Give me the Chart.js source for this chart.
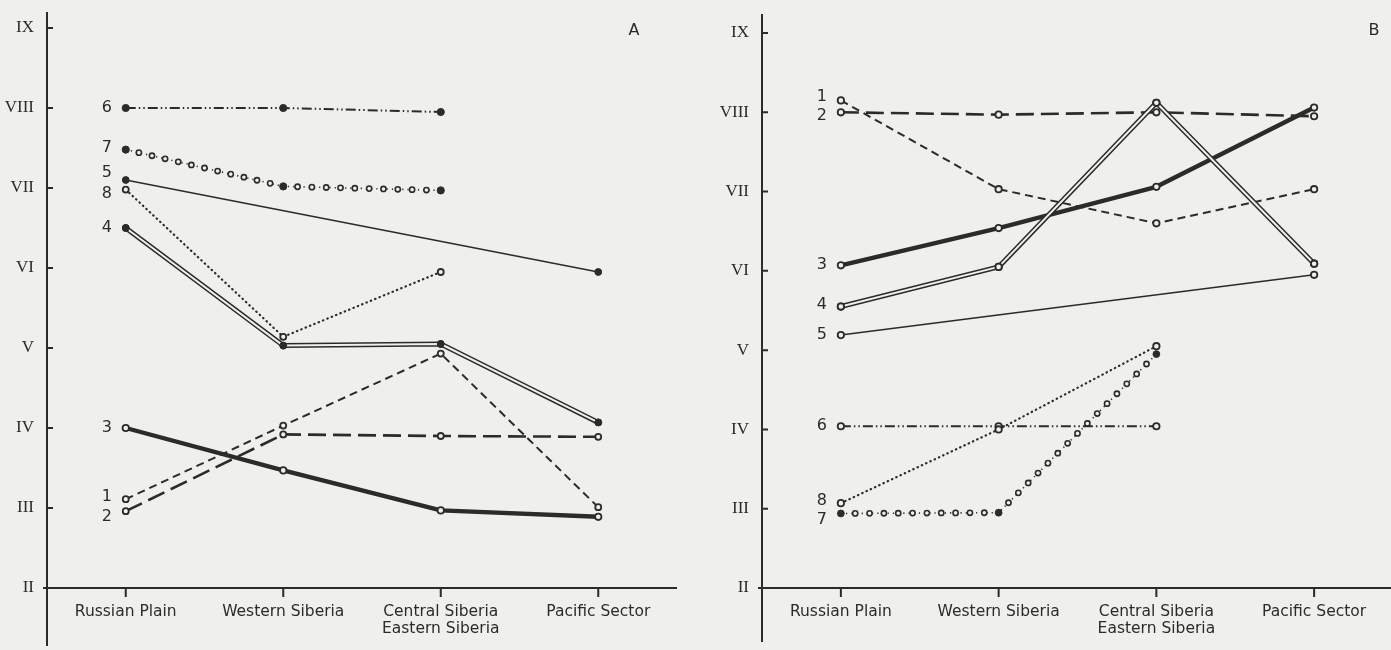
<!DOCTYPE html>
<html>
<head>
<meta charset="utf-8">
<title>Regional sequence diagrams A and B</title>
<script src="https://cdn.jsdelivr.net/npm/chart.js@4.4.1/dist/chart.umd.min.js"></script>
<style>
  html, body { margin: 0; padding: 0; background: #efefec; overflow: hidden; width: 1391px; height: 650px; }
  #wrapA { position: absolute; left: 0; top: 0; width: 700px; height: 650px; }
  #wrapB { position: absolute; left: 690px; top: 0; width: 710px; height: 650px; }
  canvas { display: block; }
</style>
</head>
<body>
<div id="wrapA"><canvas id="chartA" width="700" height="650"></canvas></div>
<div id="wrapB"><canvas id="chartB" width="710" height="650"></canvas></div>
<script>
// ---- data ----
const categories = ['Russian Plain', 'Western Siberia', ['Central Siberia', 'Eastern Siberia'], 'Pacific Sector'];
const romanTicks = ['II', 'III', 'IV', 'V', 'VI', 'VII', 'VIII', 'IX']; // values 2..9

// panel A
const a1 = [3.11, 4.03, 4.93, 3.01];
const a2 = [2.96, 3.92, 3.90, 3.89];
const a3 = [4.00, 3.47, 2.97, 2.89];
const a4 = [6.50, 5.03, 5.05, 4.07];
const a5 = [7.10, null, null, 5.95];
const a6 = [8.00, 8.00, 7.95, null];
const a7 = [7.48, 7.02, 6.97, null];
const a8 = [6.98, 5.14, 5.95, null];

// panel B
const b1 = [8.15, 7.03, 6.60, 7.03];
const b2 = [8.00, 7.97, 8.00, 7.95];
const b3 = [6.07, 6.54, 7.06, 8.06];
const b4 = [5.55, 6.05, 8.12, 6.09];
const b5 = [5.19, null, null, 5.95];
const b6 = [4.04, 4.04, 4.04, null];
const b7 = [2.94, 2.95, 4.95, null];
const b8 = [3.07, 4.00, 5.05, null];

// ---- styling ----
const INK = '#2b2b2b';
const PAPER = '#efefec';

// line style per curve number
const lineStyles = {
  1: { borderWidth: 2, borderDash: [8, 5] },
  2: { borderWidth: 2.6, borderDash: [18, 7] },
  3: { borderWidth: 4.4 },
  4: { borderWidth: 5, double: true },
  5: { borderWidth: 1.6, spanGaps: true },
  6: { borderWidth: 2, borderDash: [10, 3, 1.5, 3, 1.5, 3] },
  7: { borderWidth: 1.6, borderDash: [1.2, 4], beads: true },
  8: { borderWidth: 2.2, borderDash: [0.5, 4.2], borderCapStyle: 'round' }
};

function marker(filled, r) {
  return {
    pointRadius: r,
    pointBorderWidth: filled ? 1 : 1.8,
    pointBorderColor: INK,
    pointBackgroundColor: filled ? INK : PAPER
  };
}

// builds the datasets of one panel; a double line is an ink stroke
// with a thin paper-coloured stroke run down its middle
function buildDatasets(series, markers, tagShift) {
  const out = [];
  let order = 100;
  series.forEach((data, idx) => {
    const num = idx + 1;
    const st = lineStyles[num];
    const mk = markers[num];
    const base = Object.assign({
      label: String(num),
      data: data,
      borderColor: INK,
      backgroundColor: INK,
      fill: false,
      tension: 0,
      borderCapStyle: st.borderCapStyle || 'butt',
      borderJoinStyle: 'round',
      borderWidth: st.borderWidth,
      borderDash: st.borderDash || [],
      spanGaps: !!st.spanGaps,
      tag: String(num),
      tagDy: tagShift[num] || 0,
      beads: !!st.beads,
      order: order--
    }, mk);
    out.push(base);
    if (st.double) {
      out.push(Object.assign({}, base, {
        label: num + 'inner',
        borderColor: PAPER,
        borderWidth: 2,
        tag: null,
        order: order--
      }));
    }
  });
  return out;
}

// axes drawn as in the printed figure: the vertical axis runs past both ends,
// tick marks on the value axis point inward, category ticks hang below
const axisArt = {
  id: 'axisArt',
  beforeDatasetsDraw(chart, args, o) {
    const { ctx, chartArea, scales } = chart;
    const { left, right, bottom } = chartArea;
    ctx.save();
    ctx.strokeStyle = INK;
    ctx.lineWidth = 2;
    ctx.beginPath();
    ctx.moveTo(left, o.axisTop);
    ctx.lineTo(left, o.axisBottom);
    ctx.moveTo(left - 4, bottom);
    ctx.lineTo(right, bottom);
    scales.y.ticks.forEach(t => {
      if (t.value <= scales.y.min) return;
      const py = scales.y.getPixelForValue(t.value);
      ctx.moveTo(left, py);
      ctx.lineTo(left + 6, py);
    });
    scales.x.ticks.forEach((t, i) => {
      const px = scales.x.getPixelForTick(i);
      ctx.moveTo(px, bottom);
      ctx.lineTo(px, bottom + 9);
    });
    ctx.stroke();
    ctx.restore();
  },
  afterDatasetDraw(chart, args) {
    const ds = chart.data.datasets[args.index];
    if (!ds.beads) return;
    const pts = args.meta.data;
    const { ctx } = chart;
    ctx.save();
    ctx.strokeStyle = INK;
    ctx.fillStyle = PAPER;
    ctx.lineWidth = 1.6;
    for (let i = 0; i < pts.length - 1; i++) {
      const p = pts[i], q = pts[i + 1];
      if (p.skip || q.skip) continue;
      const dx = q.x - p.x, dy = q.y - p.y;
      const len = Math.hypot(dx, dy);
      const n = Math.max(1, Math.round(len / 14));
      for (let k = 1; k < n; k++) {
        const f = k / n;
        ctx.beginPath();
        ctx.arc(p.x + dx * f, p.y + dy * f, 2.6, 0, Math.PI * 2);
        ctx.fill();
        ctx.stroke();
      }
    }
    ctx.restore();
  },
  afterDatasetsDraw(chart, args, o) {
    const { ctx } = chart;
    ctx.save();
    ctx.fillStyle = INK;
    ctx.textAlign = 'center';
    ctx.textBaseline = 'middle';
    ctx.font = '16px "DejaVu Sans"';
    chart.data.datasets.forEach((ds, i) => {
      if (!ds.tag) return;
      const p = chart.getDatasetMeta(i).data[0];
      if (!p || p.skip) return;
      ctx.fillText(ds.tag, p.x - 19, p.y + ds.tagDy);
    });
    ctx.font = '16px "DejaVu Sans"';
    ctx.fillText(o.letter, o.letterX, o.letterY);
    ctx.restore();
  }
};

function makeChart(id, series, markers, tagShift, cfg) {
  return new Chart(document.getElementById(id), {
    type: 'line',
    data: { labels: categories, datasets: buildDatasets(series, markers, tagShift) },
    options: {
      responsive: false,
      animation: false,
      events: [],
      layout: { padding: { top: cfg.padTop, right: cfg.padRight, left: 0, bottom: 0 } },
      scales: {
        x: {
          type: 'category',
          offset: true,
          grid: { display: false, drawTicks: false },
          border: { display: false },
          ticks: {
            color: INK,
            font: { family: 'DejaVu Sans', size: 15.5, lineHeight: 1.1 },
            padding: 15,
            maxRotation: 0,
            autoSkip: false
          },
          afterFit(s) { s.height = 650 - 588; }
        },
        y: {
          min: 2,
          max: 9,
          grid: { display: false, drawTicks: false },
          border: { display: false },
          ticks: {
            stepSize: 1,
            padding: 13,
            color: INK,
            font: { family: 'Liberation Serif', size: 17 },
            callback: v => romanTicks[v - 2]
          },
          afterFit(s) { s.width = cfg.axisX; }
        }
      },
      plugins: {
        legend: { display: false },
        tooltip: { enabled: false },
        axisArt: {
          axisTop: cfg.axisTop,
          axisBottom: cfg.axisBottom,
          letter: cfg.letter,
          letterX: cfg.letterX,
          letterY: 31
        }
      }
    },
    plugins: [axisArt]
  });
}

const markersA = {
  1: marker(false, 3), 2: marker(false, 3), 3: marker(false, 3.2), 4: marker(true, 3.4),
  5: marker(true, 3.4), 6: marker(true, 3.6), 7: marker(true, 3.6), 8: marker(false, 3)
};
const markersB = {
  1: marker(false, 3.2), 2: marker(false, 3.2), 3: marker(false, 3.2), 4: marker(false, 3.2),
  5: marker(false, 3.2), 6: marker(false, 3.2), 7: marker(true, 3.4), 8: marker(false, 3.2)
};

makeChart('chartA', [a1, a2, a3, a4, a5, a6, a7, a8], markersA,
  { 1: -2, 2: 6, 5: -7, 7: -2, 8: 4 },
  { padTop: 28, padRight: 23, axisX: 47, axisTop: 12, axisBottom: 646, letter: 'A', letterX: 634 });

makeChart('chartB', [b1, b2, b3, b4, b5, b6, b7, b8], markersB,
  { 1: -4, 2: 4, 4: -2, 7: 6, 8: -2 },
  { padTop: 33, padRight: 7, axisX: 72, axisTop: 14, axisBottom: 642, letter: 'B', letterX: 684 });
</script>
</body>
</html>
